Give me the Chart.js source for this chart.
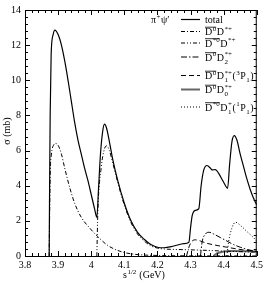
<!DOCTYPE html>
<html>
<head>
<meta charset="utf-8">
<script src="https://cdn.jsdelivr.net/npm/chart.js@4/dist/chart.umd.min.js"></script>
<style>
  html, body { margin: 0; padding: 0; background: #fff; }
</style>
</head>
<body>
<canvas id="xsec" width="266" height="281"></canvas>
<script>
// sqrt(s) in GeV, sigma in mb
const totalX = [3.873, 3.874, 3.876, 3.879, 3.885, 3.89, 3.9, 3.91, 3.92, 3.93, 3.94, 3.95, 3.96, 3.97, 3.98, 3.99, 4.0, 4.01, 4.017,
  4.022, 4.028, 4.034, 4.04, 4.046, 4.055, 4.065, 4.08, 4.1, 4.12, 4.14, 4.16, 4.18, 4.2, 4.22, 4.25, 4.28, 4.295,
  4.3, 4.305, 4.315, 4.325, 4.332, 4.34, 4.35, 4.36, 4.365, 4.375, 4.385, 4.4, 4.412, 4.418, 4.425, 4.432, 4.44,
  4.45, 4.46, 4.47, 4.48, 4.49, 4.5];
const totalY = [0, 3, 8, 11.5, 12.6, 12.85, 12.6, 12.0, 11.1, 10.0, 8.8, 7.6, 6.6, 5.8, 5.0, 4.3, 3.5, 2.7, 2.2,
  3.8, 5.8, 7.0, 7.5, 7.3, 6.5, 5.5, 4.3, 3.0, 2.0, 1.35, 0.95, 0.65, 0.5, 0.47, 0.57, 0.7, 0.78,
  1.6, 2.3, 2.6, 2.7, 4.0, 4.9, 5.15, 5.0, 4.9, 4.92, 4.7, 4.2, 3.85, 5.2, 6.5, 6.85, 6.6,
  5.8, 5.1, 4.4, 3.8, 3.3, 2.9];

const dDstX = [3.873, 3.876, 3.88, 3.886, 3.893, 3.9, 3.91, 3.92, 3.935, 3.95, 3.97, 3.995, 4.02, 4.05, 4.09, 4.13, 4.2, 4.3, 4.5];
const dDstY = [0, 4.5, 5.8, 6.3, 6.4, 6.3, 5.8, 5.0, 3.9, 3.0, 2.2, 1.6, 1.1, 0.6, 0.25, 0.1, 0.03, 0.01, 0];

const dstDstX = [4.017, 4.02, 4.03, 4.04, 4.047, 4.055, 4.065, 4.08, 4.1, 4.12, 4.14, 4.16, 4.18, 4.2, 4.22, 4.26, 4.3, 4.35, 4.4, 4.45, 4.5];
const dstDstY = [0, 2.5, 5.0, 6.1, 6.27, 6.0, 5.3, 4.2, 2.9, 1.9, 1.25, 0.85, 0.58, 0.45, 0.4, 0.37, 0.35, 0.32, 0.28, 0.25, 0.22];

const dD2X = [4.33, 4.335, 4.345, 4.356, 4.37, 4.39, 4.41, 4.43, 4.45, 4.47, 4.5];
const dD2Y = [0, 0.8, 1.25, 1.35, 1.25, 1.05, 0.85, 0.65, 0.5, 0.38, 0.25];

const dD1X = [4.288, 4.295, 4.305, 4.315, 4.33, 4.35, 4.38, 4.41, 4.44, 4.47, 4.5];
const dD1Y = [0, 0.5, 0.85, 0.92, 0.85, 0.72, 0.6, 0.5, 0.4, 0.32, 0.25];

const dD0X = [4.37, 4.38, 4.4, 4.43, 4.46, 4.5];
const dD0Y = [0, 0.15, 0.25, 0.28, 0.27, 0.25];

const dstD1X = [4.41, 4.415, 4.425, 4.436, 4.45, 4.47, 4.49, 4.5];
const dstD1Y = [0, 0.8, 1.6, 1.92, 1.75, 1.4, 1.05, 0.85];

const xTicks = [3.8, 3.9, 4.0, 4.1, 4.2, 4.3, 4.4, 4.5];
const yTicks = [0, 2, 4, 6, 8, 10, 12, 14];

const SERIF = '"Liberation Serif", "DejaVu Serif", serif';

function pts(xs, ys) {
  return xs.map((x, i) => ({ x: x, y: ys[i] }));
}

// legend entries: parts rendered as rich text
const legendRows = [
  { dash: [], w: 1.2, color: '#000', parts: [{ t: 'total' }] },
  { dash: [4, 2, 1, 2], w: 1, color: '#000', parts: [{ t: 'D', bar: true, sup: '0' }, { t: 'D', sup: '*+' }] },
  { dash: [4, 2, 1, 2, 1, 2], w: 1, color: '#000', parts: [{ t: 'D', bar: true, sup: '*0' }, { t: 'D', sup: '*+' }] },
  { dash: [6, 2, 1.5, 2], w: 1, color: '#000', parts: [{ t: 'D', bar: true, sup: '0' }, { t: 'D', sup: '*+', sub: '2' }] },
  { dash: [5, 3], w: 1, color: '#000', parts: [{ t: 'D', bar: true, sup: '0' }, { t: 'D', sup: '*+', sub: '1' }, { t: '(' }, { t: '', sup: '3' }, { t: 'P', sub: '1' }, { t: ')' }] },
  { dash: [], w: 2, color: '#666', parts: [{ t: 'D', bar: true, sup: '0' }, { t: 'D', sup: '*+', sub: '0' }] },
  { dash: [1, 2], w: 1, color: '#000', parts: [{ t: 'D', bar: true, sup: '*0' }, { t: 'D', sup: '+', sub: '1' }, { t: '(' }, { t: '', sup: '1' }, { t: 'P', sub: '1' }, { t: ')' }] }
];
const legendRowY = [19.5, 31.5, 43, 57, 75.5, 89.5, 107];

function drawRich(ctx, x, y, parts, size) {
  const small = Math.round(size * 0.7);
  let cx = x;
  parts.forEach(p => {
    ctx.font = size + 'px ' + SERIF;
    const w = ctx.measureText(p.t).width;
    ctx.fillText(p.t, cx, y);
    let ex = 0;
    ctx.font = small + 'px ' + SERIF;
    if (p.sup) {
      ctx.fillText(p.sup, cx + w + 0.5, y - size * 0.45);
      ex = Math.max(ex, ctx.measureText(p.sup).width);
    }
    if (p.sub) {
      ctx.fillText(p.sub, cx + w + 0.5, y + size * 0.3);
      ex = Math.max(ex, ctx.measureText(p.sub).width);
    }
    if (p.bar) {
      ctx.beginPath();
      ctx.lineWidth = 0.8;
      ctx.setLineDash([]);
      ctx.moveTo(cx, y - size * 0.78);
      ctx.lineTo(cx + w + ex + 0.5, y - size * 0.78);
      ctx.stroke();
    }
    cx += w + (ex ? ex + 1 : 0);
  });
}

const framePlugin = {
  id: 'frame',
  afterDraw(chart) {
    const ctx = chart.ctx;
    const a = chart.chartArea;
    const xs = chart.scales.x, ys = chart.scales.y;
    ctx.save();
    ctx.strokeStyle = '#000';
    ctx.fillStyle = '#000';
    ctx.lineWidth = 1;
    ctx.setLineDash([]);
    ctx.strokeRect(a.left + 0.5, a.top + 0.5, a.right - a.left - 1, a.bottom - a.top);

    // inward ticks on all four sides
    ctx.beginPath();
    for (let i = 0; i <= 35; i++) {
      const v = 3.8 + i * 0.02;
      const px = Math.round(xs.getPixelForValue(v)) + 0.5;
      const len = (i % 5 === 0) ? 5 : 3;
      ctx.moveTo(px, a.bottom); ctx.lineTo(px, a.bottom - len);
      ctx.moveTo(px, a.top); ctx.lineTo(px, a.top + len);
    }
    for (let i = 0; i <= 35; i++) {
      const v = i * 0.4;
      const py = Math.round(ys.getPixelForValue(v)) + 0.5;
      const len = (i % 5 === 0) ? 5 : 3;
      ctx.moveTo(a.left, py); ctx.lineTo(a.left + len, py);
      ctx.moveTo(a.right, py); ctx.lineTo(a.right - len, py);
    }
    ctx.stroke();

    // axis titles
    ctx.textBaseline = 'alphabetic';
    ctx.textAlign = 'left';
    drawRich(ctx, 123, 278, [{ t: 's', sup: '1/2' }, { t: ' (GeV)' }], 10);

    ctx.save();
    ctx.translate(10, 131);
    ctx.rotate(-Math.PI / 2);
    ctx.textAlign = 'center';
    ctx.font = '10px ' + SERIF;
    ctx.fillText('σ (mb)', 0, 0);
    ctx.restore();

    // legend
    ctx.textAlign = 'left';
    drawRich(ctx, 151, 23, [{ t: 'π', sup: '+' }, { t: 'ψ′' }], 10);
    legendRows.forEach((r, i) => {
      const y = legendRowY[i];
      ctx.beginPath();
      ctx.strokeStyle = r.color;
      ctx.lineWidth = r.w;
      ctx.setLineDash(r.dash);
      ctx.moveTo(181, y); ctx.lineTo(200, y);
      ctx.stroke();
      ctx.strokeStyle = '#000';
      ctx.setLineDash([]);
      drawRich(ctx, 205, y + 3.5, r.parts, 10);
    });
    ctx.restore();
  }
};

function ds(label, xs, ys, dash, w, color) {
  return {
    label: label,
    data: pts(xs, ys),
    borderColor: color,
    borderWidth: w,
    borderDash: dash,
    pointRadius: 0,
    fill: false,
    cubicInterpolationMode: 'monotone'
  };
}

new Chart(document.getElementById('xsec'), {
  type: 'line',
  data: {
    datasets: [
      ds('total', totalX, totalY, [], 1.2, '#000'),
      ds('D0bar D*+', dDstX, dDstY, [4, 2, 1, 2], 1, '#000'),
      ds('D*0bar D*+', dstDstX, dstDstY, [4, 2, 1, 2, 1, 2], 1, '#000'),
      ds('D0bar D2*+', dD2X, dD2Y, [6, 2, 1.5, 2], 1, '#000'),
      ds('D0bar D1*+(3P1)', dD1X, dD1Y, [5, 3], 1, '#000'),
      ds('D0bar D0*+', dD0X, dD0Y, [], 2, '#666'),
      ds('D*0bar D1+(1P1)', dstD1X, dstD1Y, [1, 2], 1, '#000')
    ]
  },
  options: {
    responsive: false,
    animation: false,
    devicePixelRatio: 1,
    layout: { padding: { top: 5, right: 8, left: 0, bottom: 0 } },
    plugins: { legend: { display: false }, tooltip: { enabled: false } },
    scales: {
      x: {
        type: 'linear', min: 3.8, max: 4.5,
        afterBuildTicks: s => { s.ticks = xTicks.map(v => ({ value: v })); },
        afterFit: s => { s.height = 25; },
        grid: { display: false, drawTicks: false, tickLength: 0 },
        border: { display: false },
        ticks: {
          padding: 3, color: '#000', font: { family: SERIF, size: 10 },
          callback: v => String(+(+v).toFixed(2))
        }
      },
      y: {
        min: 0, max: 14,
        afterBuildTicks: s => { s.ticks = yTicks.map(v => ({ value: v })); },
        afterFit: s => { s.width = 25; },
        grid: { display: false, drawTicks: false, tickLength: 0 },
        border: { display: false },
        ticks: { padding: 4, color: '#000', font: { family: SERIF, size: 10 } }
      }
    }
  },
  plugins: [framePlugin]
});
</script>
</body>
</html>
